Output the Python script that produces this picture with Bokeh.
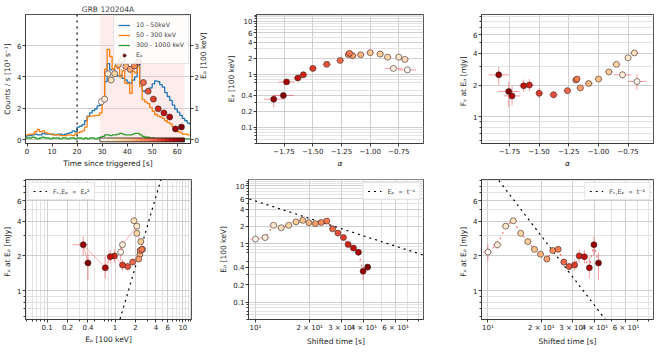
import numpy as np
from bokeh.plotting import figure
from bokeh.layouts import column, row
from bokeh.models import (ColumnDataSource, Range1d, LinearAxis, FixedTicker,
                          CustomJSTickFormatter, BoxAnnotation, Span, Legend, LegendItem)
from bokeh.palettes import OrRd9
from bokeh.embed import file_html
from bokeh.resources import INLINE

# ---------------- data ----------------
lc_t = list(range(-1, 66))
lc_10_50 = [0.20, 0.25, 0.25, 0.30, 0.35, 0.30, 0.30, 0.40, 0.35, 0.35, 0.35, 0.35, 0.30, 0.35, 0.35, 0.30,
            0.35, 0.40, 0.45, 0.55, 0.50, 0.80, 0.85, 0.95, 1.20, 1.50, 1.70, 1.85, 1.95, 2.15, 2.20, 2.55,
            3.70, 4.85, 4.45, 4.50, 4.20, 4.05, 4.10, 3.90, 3.80, 3.65, 3.60, 3.80, 4.00, 4.85, 3.60, 3.10,
            3.05, 3.00, 3.30, 3.55, 3.75, 3.70, 3.50, 3.35, 3.00, 2.75, 2.50, 2.20, 1.95, 1.75, 1.55, 1.35,
            1.20, 1.05, 0.95]
lc_50_300 = [0.30, 0.30, 0.35, 0.35, 0.50, 0.65, 0.50, 0.55, 0.45, 0.40, 0.35, 0.30, 0.30, 0.30, 0.25, 0.25,
             0.25, 0.30, 0.30, 0.25, 0.35, 0.45, 0.50, 0.55, 0.80, 1.45, 1.50, 1.50, 1.55, 1.55, 1.70, 2.40,
             4.50, 5.75, 5.30, 4.50, 4.70, 4.55, 4.00, 4.40, 3.60, 3.55, 2.95, 4.35, 4.25, 4.65, 3.40, 2.55,
             2.40, 2.30, 2.05, 1.80, 1.60, 1.50, 1.45, 1.35, 1.20, 1.10, 1.00, 0.80, 0.60, 0.50, 0.45, 0.35,
             0.35, 0.30, 0.30]
lc_300_1000 = [0.10, 0.10, 0.10, 0.15, 0.10, 0.05, 0.10, 0.15, 0.10, 0.10, 0.05, 0.10, 0.10, 0.10, 0.05, 0.10,
               0.10, 0.05, 0.10, 0.10, 0.05, 0.10, 0.10, 0.05, 0.10, 0.05, 0.10, 0.10, 0.05, 0.10, 0.15, 0.20,
               0.30, 0.30, 0.25, 0.30, 0.30, 0.35, 0.40, 0.35, 0.30, 0.30, 0.30, 0.35, 0.40, 0.40, 0.30, 0.20,
               0.15, 0.15, 0.10, 0.10, 0.05, 0.05, 0.05, 0.05, 0.05, 0.05, 0.05, 0.05, 0.05, 0.05, 0.05, 0.05,
               0.05, 0.05, 0.05]

T0 = 19.7  # time shift [s]
t_obs = [29.7, 31.0, 32.3, 33.6, 35.0, 36.5, 38.0, 39.5, 41.2, 42.9, 44.6, 46.5, 48.4, 50.5, 52.4, 54.7,
         57.0, 59.3, 61.7]
t_err = [0.6, 0.65, 0.65, 0.65, 0.7, 0.75, 0.75, 0.8, 0.85, 0.85, 0.9, 0.95, 1.0, 1.0, 1.0, 1.15,
         1.15, 1.2, 1.2]
ep = [1.21, 1.29, 2.10, 1.90, 2.10, 2.40, 2.55, 2.33, 2.24, 2.35, 2.48, 1.82, 1.54, 1.29, 0.98, 0.85,
      0.72, 0.34, 0.40]
ep_lo = [0.06, 0.07, 0.10, 0.10, 0.10, 0.12, 0.12, 0.12, 0.11, 0.12, 0.13, 0.10, 0.09, 0.08, 0.07, 0.07,
         0.09, 0.10, 0.06]
ep_hi = [0.06, 0.07, 0.10, 0.10, 0.10, 0.12, 0.12, 0.12, 0.11, 0.12, 0.13, 0.10, 0.09, 0.08, 0.07, 0.07,
         0.08, 0.06, 0.05]
alpha = [-0.675, -0.797, -0.750, -0.697, -0.848, -0.912, -0.999, -1.082, -1.152, -1.190, -1.180, -1.261,
         -1.378, -1.499, -1.582, -1.630, -1.728, -1.840, -1.756]
alpha_err = [0.077, 0.074, 0.03, 0.035, 0.035, 0.035, 0.035, 0.035, 0.035, 0.03, 0.03, 0.035,
             0.04, 0.035, 0.035, 0.04, 0.07, 0.085, 0.09]
flux = [2.16, 2.50, 3.62, 4.03, 3.14, 2.66, 2.28, 2.07, 1.88, 2.23, 2.28, 1.77, 1.62, 1.67, 2.00, 1.97,
        1.58, 2.50, 1.74]
flux_lo = [0.35, 0.20, 0.15, 0.15, 0.12, 0.10, 0.10, 0.10, 0.10, 0.10, 0.10, 0.12, 0.13, 0.18, 0.25, 0.25,
           0.30, 0.50, 0.50]
flux_hi = [0.38, 0.22, 0.15, 0.15, 0.12, 0.10, 0.10, 0.10, 0.10, 0.10, 0.10, 0.12, 0.14, 0.20, 0.28, 0.28,
           0.40, 0.45, 0.40]

# model normalisations
K_EP2 = 0.404    # F ~ K * Ep^2
K_T1 = 55.0      # Ep ~ K / t
K_T2 = 1190.0    # F ~ K / t^2

lc_labels = ["10 - 50keV", "50 - 300 keV", "300 - 1000 keV"]
lc_colors = ["#1f77b4", "#ff7f0e", "#2ca02c"]

FONT = "DejaVu Sans"
LBL = "Eₚ [100 keV]"
FLBL = "Fᵥ  at  Eₚ [mJy]"


def interp_colors(pal, n):
    rgb = [tuple(int(c[i:i + 2], 16) for i in (1, 3, 5)) for c in pal]
    out = []
    for k in range(n):
        f = k / (n - 1) * (len(rgb) - 1)
        i = min(int(f), len(rgb) - 2)
        w = f - i
        c = [round(rgb[i][j] * (1 - w) + rgb[i + 1][j] * w) for j in range(3)]
        out.append("#%02x%02x%02x" % tuple(c))
    return out


cmap = list(reversed(OrRd9))
n = len(ep)
colors = interp_colors(cmap, n)
src = ColumnDataSource(dict(
    t=t_obs, ts=[t - T0 for t in t_obs],
    t0=[t - e for t, e in zip(t_obs, t_err)], t1=[t + e for t, e in zip(t_obs, t_err)],
    ts0=[t - e - T0 for t, e in zip(t_obs, t_err)], ts1=[t + e - T0 for t, e in zip(t_obs, t_err)],
    ep=ep, ep0=[v - e for v, e in zip(ep, ep_lo)], ep1=[v + e for v, e in zip(ep, ep_hi)],
    a=alpha, a0=[v - e for v, e in zip(alpha, alpha_err)], a1=[v + e for v, e in zip(alpha, alpha_err)],
    f=flux, f0=[v - e for v, e in zip(flux, flux_lo)], f1=[v + e for v, e in zip(flux, flux_hi)],
    c=colors))

ERR = dict(line_color="#ff2020", line_alpha=0.45, line_width=1.0)
PT = dict(size=6, fill_color="c", line_color="#3b2626", line_width=0.6)

EP_TICKS = [0.1, 0.2, 0.4, 1, 2, 4, 6, 10]
EP_MINOR = [0.05, 0.06, 0.07, 0.08, 0.09, 0.3, 0.5, 0.7, 0.8, 0.9, 3, 5, 7, 8, 9, 11, 12, 13]
F_TICKS = [1, 2, 4, 6]
F_MINOR = [0.6, 0.7, 0.8, 0.9, 3, 5, 7, 8, 9]
T_TICKS = [10, 20, 30, 40, 60]
T_MINOR = [50, 70, 80]
A_TICKS = [-1.75, -1.5, -1.25, -1.0, -0.75]

log_fmt = CustomJSTickFormatter(code="return tick < 1 ? tick.toFixed(1) : tick.toFixed(0);")
t_fmt = CustomJSTickFormatter(code="const m = {10: '10¹', 20: '2 × 10¹', 30: '3 × 10¹', 40: '4 × 10¹', 60: '6 × 10¹'}; return m[Math.round(tick)] || '';")
a_fmt = CustomJSTickFormatter(code="return tick.toFixed(2).replace('-', '\u2212');")


def style(p):
    p.outline_line_color = "#3c3c3c"
    p.outline_line_width = 0.9
    p.outline_line_alpha = 1
    for ax in p.xaxis + p.yaxis:
        ax.axis_line_color = "#3c3c3c"
        ax.major_tick_out = 3
        ax.major_tick_in = 0
        ax.minor_tick_out = 2
        ax.minor_tick_in = 0
        ax.major_tick_line_color = "#3c3c3c"
        ax.minor_tick_line_color = "#3c3c3c"
        ax.major_label_text_font = FONT
        ax.major_label_text_font_size = "7px"
        ax.major_label_text_color = "#222222"
        ax.major_label_standoff = 1
        ax.axis_label_text_font = FONT
        ax.axis_label_text_font_size = "7.5px"
        ax.axis_label_text_font_style = "normal"
        ax.axis_label_text_color = "#222222"
        ax.axis_label_standoff = 2
    for g in p.xgrid + p.ygrid:
        g.grid_line_color = "#c4c4c4"
        g.grid_line_width = 0.8
        g.minor_grid_line_color = "#dcdcdc"
        g.minor_grid_line_width = 0.8


def leg_style(lg, loc, size="6.3px", gw=14, margin=3):
    lg.location = loc
    lg.label_text_font = FONT
    lg.label_text_font_size = size
    lg.glyph_width = gw
    lg.glyph_height = 8
    lg.label_height = 8
    lg.padding = 4
    lg.margin = margin
    lg.spacing = 1
    lg.label_standoff = 6
    lg.border_line_color = "#cccccc"
    lg.background_fill_alpha = 0.85


def errs(p, x, y, xe=None, ye=None, **kw):
    if ye:
        p.segment(x0=x, y0=ye[0], x1=x, y1=ye[1], source=src, **ERR, **kw)
    if xe:
        p.segment(x0=xe[0], y0=y, x1=xe[1], y1=y, source=src, **ERR, **kw)


COMMON = dict(output_backend="svg", toolbar_location=None)
TOP = dict(height=170, min_border_top=14, min_border_bottom=24)
BOT = dict(height=178, min_border_top=9, min_border_bottom=26)

# ---------------- panel 1: light curve ----------------
f1 = figure(width=224, x_range=Range1d(-0.6, 65.3), y_range=Range1d(-0.25, 7.98),
            min_border_left=19, min_border_right=34, title="GRB 120204A", **TOP, **COMMON)
f1.title.align = "center"
f1.title.text_font = FONT
f1.title.text_font_size = "7.5px"
f1.title.text_font_style = "normal"
f1.title.standoff = 2
f1.extra_y_ranges = {"ep": Range1d(-0.125, 3.99)}
ax_r = LinearAxis(y_range_name="ep", axis_label=LBL, ticker=FixedTicker(ticks=[0, 1, 2, 3]))
f1.add_layout(ax_r, "right")
f1.left[0].ticker = FixedTicker(ticks=[0, 2, 4, 6])
f1.left[0].axis_label = "Counts / s [10³ s⁻¹]"
f1.xaxis.ticker = FixedTicker(ticks=[0, 10, 20, 30, 40, 50, 60])
f1.xaxis.axis_label = "Time since triggered [s]"
style(f1)
try:
    ax_r.axis_label_orientation = np.pi / 2
except Exception:
    pass
f1.xgrid.visible = False

f1.add_layout(BoxAnnotation(left=t_obs[0] - t_err[0], right=t_obs[-1] + t_err[-1],
                            fill_color="#f9c9c9", fill_alpha=0.35, line_color=None, level="underlay"))
f1.add_layout(Span(location=T0 + 0.3, dimension="height", line_color="black",
                   line_dash="dotted", line_width=1.2))
r_lc = []
for ys, col in zip([lc_10_50, lc_50_300, lc_300_1000], lc_colors):
    r_lc.append(f1.step(lc_t, ys, mode="after", line_color=col, line_width=1.3))

cb_n = 64
cb_cols = interp_colors(cmap, cb_n)
cb_edges = np.linspace(t_obs[0] - t_err[0], t_obs[-1] + t_err[-1], cb_n + 1)
f1.quad(left=cb_edges[:-1], right=cb_edges[1:], bottom=-0.14, top=0.1,
        fill_color=cb_cols, line_color=cb_cols, line_width=0.5)
f1.quad(left=cb_edges[0], right=cb_edges[-1], bottom=-0.14, top=0.1,
        fill_color=None, line_color="#222222", line_width=0.8)

errs(f1, "t", "ep", ye=("ep0", "ep1"), y_range_name="ep")
r_ep = f1.scatter(x="t", y="ep", source=src, y_range_name="ep", **PT)
leg1 = Legend(items=[LegendItem(label=lab, renderers=[r]) for lab, r in zip(lc_labels, r_lc)] +
              [LegendItem(label="Eₚ", renderers=[r_ep], index=n - 1)])
f1.add_layout(leg1)
leg_style(leg1, "top_right", size="6.3px", gw=12, margin=1)
leg1.label_height = 9
leg1.spacing = 1

# ---------------- panel 2: Ep vs alpha ----------------
f2 = figure(width=225, x_range=Range1d(-1.99, -0.535), y_range=Range1d(0.05, 13.3),
            y_axis_type="log", min_border_left=25, min_border_right=26, **TOP, **COMMON)
f2.xaxis.ticker = FixedTicker(ticks=A_TICKS)
f2.xaxis.formatter = a_fmt
f2.yaxis.ticker = FixedTicker(ticks=EP_TICKS, minor_ticks=EP_MINOR)
f2.yaxis.formatter = log_fmt
f2.xaxis.axis_label = "α"
f2.yaxis.axis_label = LBL
style(f2)
f2.xaxis.axis_label_text_font_style = "italic"
errs(f2, "a", "ep", xe=("a0", "a1"), ye=("ep0", "ep1"))
f2.scatter(x="a", y="ep", source=src, **PT)

# ---------------- panel 3: F vs alpha ----------------
f3 = figure(width=205, x_range=Range1d(-1.985, -0.536), y_range=Range1d(0.56, 9.3),
            y_axis_type="log", min_border_left=32, min_border_right=1, **TOP, **COMMON)
f3.xaxis.ticker = FixedTicker(ticks=A_TICKS)
f3.xaxis.formatter = a_fmt
f3.yaxis.ticker = FixedTicker(ticks=F_TICKS, minor_ticks=F_MINOR)
f3.yaxis.formatter = log_fmt
f3.xaxis.axis_label = "α"
f3.yaxis.axis_label = FLBL
style(f3)
f3.xaxis.axis_label_text_font_style = "italic"
errs(f3, "a", "f", xe=("a0", "a1"), ye=("f0", "f1"))
f3.scatter(x="a", y="f", source=src, **PT)

# ---------------- panel 4: F vs Ep ----------------
f4 = figure(width=214, x_range=Range1d(0.048, 13.4), y_range=Range1d(0.565, 9.15),
            x_axis_type="log", y_axis_type="log", min_border_left=19, min_border_right=23,
            **BOT, **COMMON)
f4.xaxis.ticker = FixedTicker(ticks=EP_TICKS, minor_ticks=EP_MINOR)
f4.xaxis.formatter = log_fmt
f4.yaxis.ticker = FixedTicker(ticks=F_TICKS, minor_ticks=F_MINOR)
f4.yaxis.formatter = log_fmt
f4.xaxis.axis_label = LBL
f4.yaxis.axis_label = FLBL
style(f4)
m4x = [1.0, 6.0]
f4.line(m4x, [K_EP2 * x ** 2 for x in m4x], line_color="black", line_dash="dotted", line_width=1.2,
        legend_label="Fᵥ,Eₚ  ∝  Eₚ²")
f4.line(x="ep", y="f", source=src, line_color="#ff5050", line_alpha=0.6, line_width=0.8)
errs(f4, "ep", "f", xe=("ep0", "ep1"), ye=("f0", "f1"))
f4.scatter(x="ep", y="f", source=src, **PT)
leg_style(f4.legend[0], "top_left")

# ---------------- panel 5: Ep vs shifted time ----------------
f5 = figure(width=235, x_range=Range1d(9.15, 85.7), y_range=Range1d(0.05, 12.9),
            x_axis_type="log", y_axis_type="log", min_border_left=34, min_border_right=26,
            **BOT, **COMMON)
f5.xaxis.ticker = FixedTicker(ticks=T_TICKS, minor_ticks=T_MINOR)
f5.xaxis.formatter = t_fmt
f5.yaxis.ticker = FixedTicker(ticks=EP_TICKS, minor_ticks=EP_MINOR)
f5.yaxis.formatter = log_fmt
f5.xaxis.axis_label = "Shifted time [s]"
f5.yaxis.axis_label = LBL
style(f5)
m5x = [8.0, 100.0]
f5.line(m5x, [K_T1 / x for x in m5x], line_color="black", line_dash="dotted", line_width=1.2,
        legend_label="Eₚ  ∝  t⁻¹")
f5.line(x="ts", y="ep", source=src, line_color="#ff3030", line_dash="dotted", line_alpha=0.7, line_width=1.2)
errs(f5, "ts", "ep", xe=("ts0", "ts1"), ye=("ep0", "ep1"))
f5.scatter(x="ts", y="ep", source=src, **PT)
leg_style(f5.legend[0], "top_right")

# ---------------- panel 6: F vs shifted time ----------------
f6 = figure(width=205, x_range=Range1d(9.2, 85.8), y_range=Range1d(0.565, 9.15),
            x_axis_type="log", y_axis_type="log", min_border_left=32, min_border_right=1,
            **BOT, **COMMON)
f6.xaxis.ticker = FixedTicker(ticks=T_TICKS, minor_ticks=T_MINOR)
f6.xaxis.formatter = t_fmt
f6.yaxis.ticker = FixedTicker(ticks=F_TICKS, minor_ticks=F_MINOR)
f6.yaxis.formatter = log_fmt
f6.xaxis.axis_label = "Shifted time [s]"
f6.yaxis.axis_label = FLBL
style(f6)
m6x = [10.0, 60.0]
f6.line(m6x, [K_T2 / x ** 2 for x in m6x], line_color="black", line_dash="dotted", line_width=1.2,
        legend_label="Fᵥ,Eₚ  ∝  t⁻²")
f6.line(x="ts", y="f", source=src, line_color="#ff3030", line_dash="dotted", line_alpha=0.7, line_width=1.2)
errs(f6, "ts", "f", xe=("ts0", "ts1"), ye=("f0", "f1"))
f6.scatter(x="ts", y="f", source=src, **PT)
leg_style(f6.legend[0], "top_right")

layout = column(row(f1, f2, f3), row(f4, f5, f6))
open("out.html", "w").write(file_html(layout, INLINE))
